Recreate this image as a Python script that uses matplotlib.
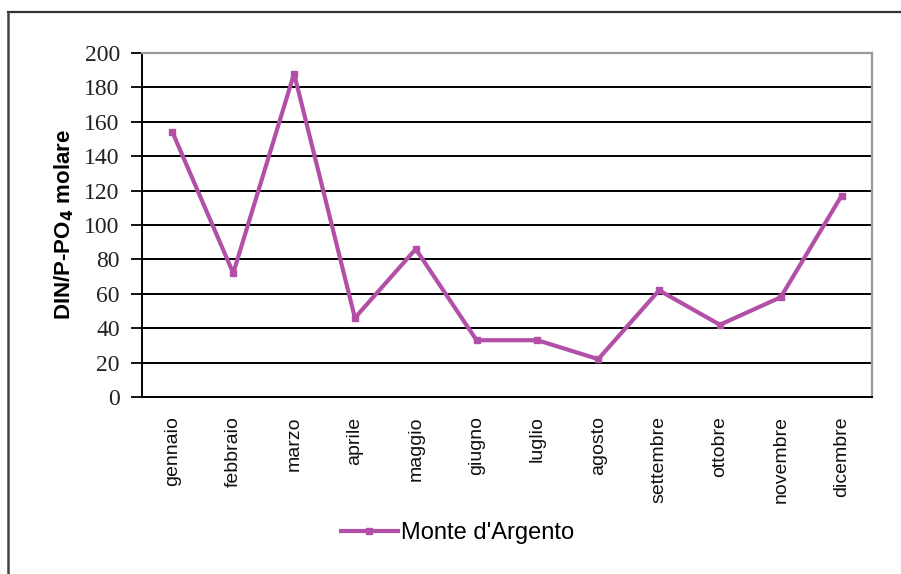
import matplotlib
matplotlib.use("Agg")
import matplotlib.pyplot as plt
from matplotlib.lines import Line2D

# Rapporto molare DIN/P-PO4 per mese, stazione Monte d'Argento
mesi = ["gennaio", "febbraio", "marzo", "aprile", "maggio", "giugno",
        "luglio", "agosto", "settembre", "ottobre", "novembre", "dicembre"]
din_po4 = [154, 72, 188, 46, 86, 33, 33, 22, 62, 42, 58, 117]
y_ticks = [0, 20, 40, 60, 80, 100, 120, 140, 160, 180, 200]

LINE_COLOR = "#B24FA6"

fig = plt.figure(figsize=(9.01, 5.74), dpi=100)
fig.patch.set_facecolor("white")

ax = fig.add_axes([0.1576, 0.3084, 0.8102, 0.5993])
x = list(range(len(mesi)))
ax.plot(x, din_po4, color=LINE_COLOR, lw=3.0, marker="s", ms=5,
        label="Monte d'Argento", zorder=3)

ax.set_xlim(-0.5, len(mesi) - 0.5)
ax.set_ylim(0, 200)
ax.set_yticks(y_ticks)
ax.set_yticklabels([str(v) for v in y_ticks], family="Liberation Serif",
                   fontsize=17, color="#222222")
ax.set_xticks(x)
ax.set_xticklabels(mesi, rotation=90, family="Liberation Sans", fontsize=14,
                   va="top", color="#111111")
ax.tick_params(axis="x", length=0, pad=14)
ax.tick_params(axis="y", length=8, width=1.3, direction="out", pad=8)

# griglia orizzontale nera
for v in y_ticks[1:-1]:
    ax.axhline(v, color="black", lw=1.4, zorder=1)

ax.spines["left"].set_color("black")
ax.spines["left"].set_linewidth(1.4)
ax.spines["bottom"].set_color("black")
ax.spines["bottom"].set_linewidth(1.4)
ax.spines["top"].set_color("#999999")
ax.spines["top"].set_linewidth(1.6)
ax.spines["right"].set_color("#999999")
ax.spines["right"].set_linewidth(1.6)

ax.set_ylabel("DIN/P-PO$_\\mathbf{4}$ molare", family="Liberation Sans",
              fontsize=16, fontweight="bold", labelpad=6)

handle = Line2D([], [], color=LINE_COLOR, lw=3.0, marker="s", ms=5)
fig.legend([handle], ["Monte d'Argento"], loc="center",
           bbox_to_anchor=(0.508, 0.071), frameon=False, handlelength=2.4,
           handletextpad=0.15, prop={"family": "Liberation Sans", "size": 17})

# cornice esterna
fig.add_artist(Line2D([8 / 901, 1.0], [1 - 12 / 574, 1 - 12 / 574],
                      transform=fig.transFigure, color="#333333", lw=1.6))
fig.add_artist(Line2D([8 / 901, 8 / 901], [0.0, 1 - 12 / 574],
                      transform=fig.transFigure, color="#444444", lw=1.8))

fig.savefig("out.png", dpi=100, facecolor="white")
